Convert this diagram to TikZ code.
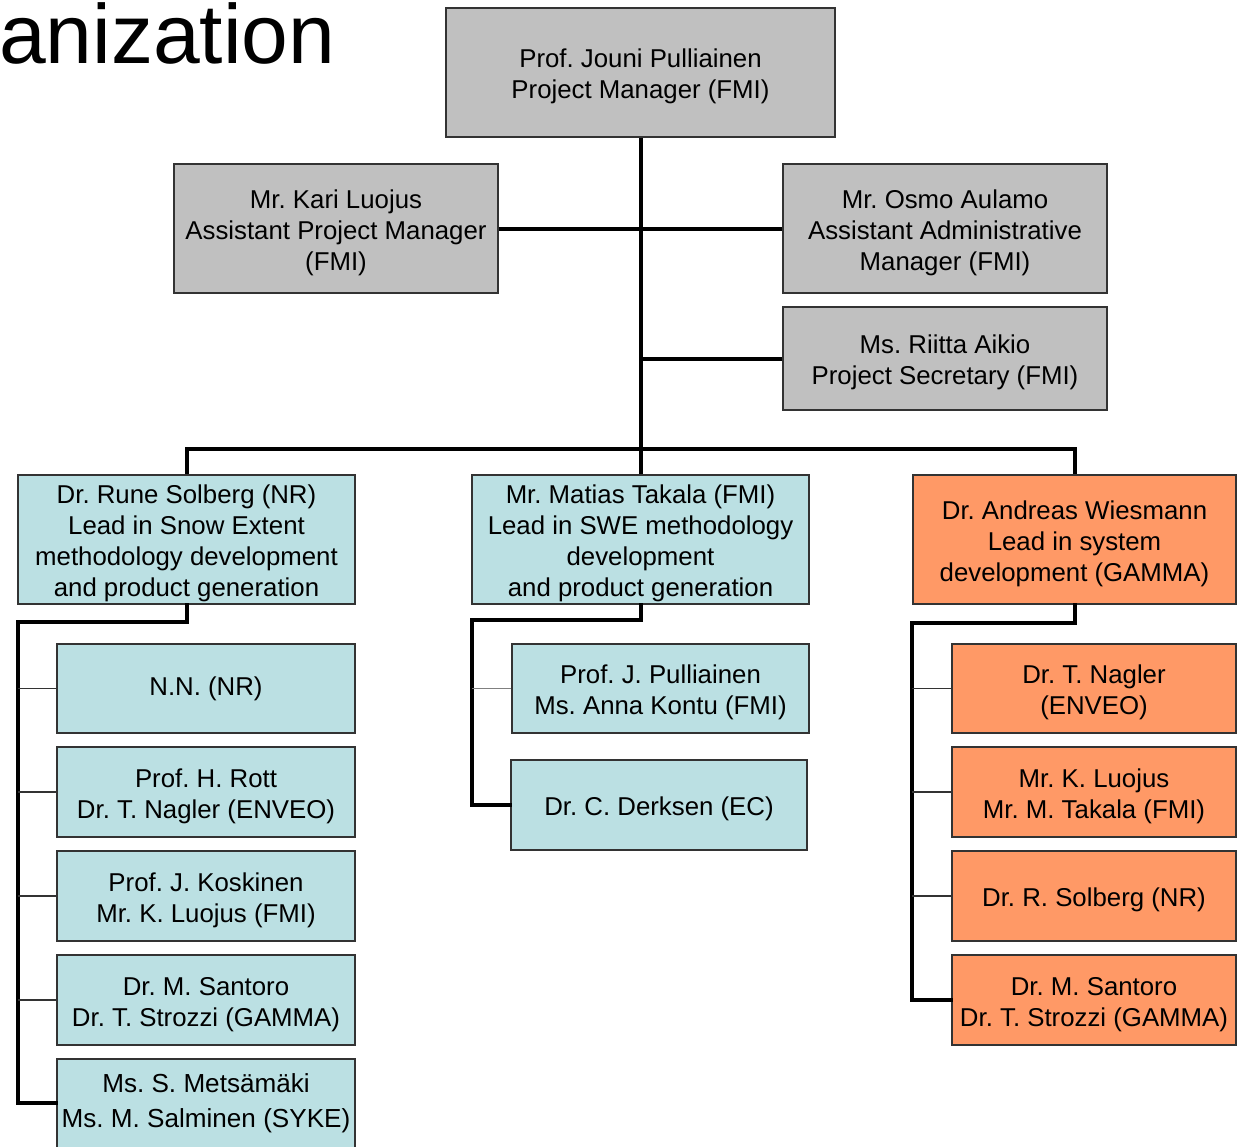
\documentclass[tikz,border=0pt]{standalone}
\usepackage{fontspec}
\setmainfont{Liberation Sans}
\frenchspacing
\definecolor{boxgray}{HTML}{C0C0C0}
\definecolor{boxblue}{HTML}{BBE0E3}
\definecolor{boxorange}{HTML}{FF9966}
\newcommand\tsx{\rule{0pt}{27.5pt}}
\newcommand\bsx{\rule[-6pt]{0pt}{6pt}}
\begin{document}
\begin{tikzpicture}[x=1pt,y=-1pt,
  box/.style={draw=black!80, line width=1.3pt, align=center, inner sep=0pt,
    font=\fontsize{25.8}{31}\selectfont\frenchspacing},
  gbox/.style={box, fill=boxgray},
  bbox/.style={box, fill=boxblue},
  obox/.style={box, fill=boxorange},
  bus/.style={line width=4pt, black},
  twig/.style={line width=1.4pt, black!80}]
\useasboundingbox (0,0) rectangle (1237,1146);
\clip (0,0) rectangle (1237,1146);
\node[anchor=base west, inner sep=0pt, font=\fontsize{84}{90}\selectfont] (title) at (-1,63) {anization};
% top management
\node[gbox, minimum width=389pt, minimum height=129pt] (pm) at (640.5,72.5) {\tsx Prof. Jouni Pulliainen\\Project Manager (FMI)\bsx};
\node[gbox, minimum width=324pt, minimum height=129pt] (kari) at (336,228.5) {\tsx Mr. Kari Luojus\\Assistant Project Manager\\(FMI)\bsx};
\node[gbox, minimum width=324pt, minimum height=129pt] (osmo) at (945,228.5) {\tsx Mr. Osmo Aulamo\\Assistant Administrative\\Manager (FMI)\bsx};
\node[gbox, minimum width=324pt, minimum height=103pt] (riitta) at (945,358.5) {\tsx Ms. Riitta Aikio\\Project Secretary (FMI)\bsx};
% leads
\node[bbox, minimum width=337pt, minimum height=129pt] (ll) at (186.5,539.5) {\tsx Dr. Rune Solberg (NR)\\Lead in Snow Extent\\methodology development\\and product generation\bsx};
\node[bbox, minimum width=337pt, minimum height=129pt] (ml) at (640.5,539.5) {\tsx Mr. Matias Takala (FMI)\\Lead in SWE methodology\\development\\and product generation\bsx};
\node[obox, minimum width=323pt, minimum height=129pt] (rl) at (1074.5,539.5) {\tsx Dr. Andreas Wiesmann\\Lead in system\\development (GAMMA)\bsx};
% left column
\node[bbox, minimum width=298pt, minimum height=89pt] (l1) at (206,688.5) {N.N. (NR)};
\node[bbox, minimum width=298pt, minimum height=90pt] (l2) at (206,792) {\tsx Prof. H. Rott\\Dr. T. Nagler (ENVEO)\bsx};
\node[bbox, minimum width=298pt, minimum height=90pt] (l3) at (206,896) {\tsx Prof. J. Koskinen\\Mr. K. Luojus (FMI)\bsx};
\node[bbox, minimum width=298pt, minimum height=90pt] (l4) at (206,1000) {\tsx Dr. M. Santoro\\Dr. T. Strozzi (GAMMA)\bsx};
\node[bbox, minimum width=298pt, minimum height=90pt, font=\fontsize{26.1}{31}\selectfont\frenchspacing] (l5) at (206,1104) {Ms. S. Metsämäki\\[4pt]Ms. M. Salminen (SYKE)\bsx};
% middle column
\node[bbox, minimum width=297pt, minimum height=89pt] (m1) at (660.5,688.5) {\tsx Prof. J. Pulliainen\\Ms. Anna Kontu (FMI)\bsx};
\node[bbox, minimum width=296pt, minimum height=90pt] (m2) at (659,805) {\tsx Dr. C. Derksen (EC)\bsx};
% right column
\node[obox, minimum width=284pt, minimum height=89pt] (r1) at (1094,688.5) {\tsx Dr. T. Nagler\\(ENVEO)\bsx};
\node[obox, minimum width=284pt, minimum height=90pt] (r2) at (1094,792) {\tsx Mr. K. Luojus\\Mr. M. Takala (FMI)\bsx};
\node[obox, minimum width=284pt, minimum height=90pt] (r3) at (1094,896) {\tsx Dr. R. Solberg (NR)\bsx};
\node[obox, minimum width=284pt, minimum height=90pt] (r4) at (1094,1000) {\tsx Dr. M. Santoro\\Dr. T. Strozzi (GAMMA)\bsx};
% corner coordinates
\coordinate (busy) at (640.5,449);
\coordinate (lc) at (18,622);
\coordinate (mc) at (472,620);
\coordinate (rc) at (912,623);
% connectors
\draw[bus] (pm.south) -- (ml.north);
\draw[bus] (kari.east) -- (osmo.west);
\draw[bus] (riitta.west) -- (riitta.west -| pm.south);
\draw[bus] (ll.north) |- (busy) -| (rl.north);
\draw[bus, line cap=rect] (ll.south) |- (lc) |- (l5.west |- 0,1103);
\draw[bus, line cap=rect] (ml.south) |- (mc) |- (m2.west);
\draw[bus, line cap=rect] (rl.south) |- (rc) |- (r4.west);
\foreach \n in {l1,l2,l3,l4} \draw[twig] (\n.west) -- (\n.west -| lc);
\draw[twig, black!50] (m1.west) -- (m1.west -| mc);
\foreach \n in {r1,r2,r3} \draw[twig] (\n.west) -- (\n.west -| rc);
\end{tikzpicture}
\end{document}
